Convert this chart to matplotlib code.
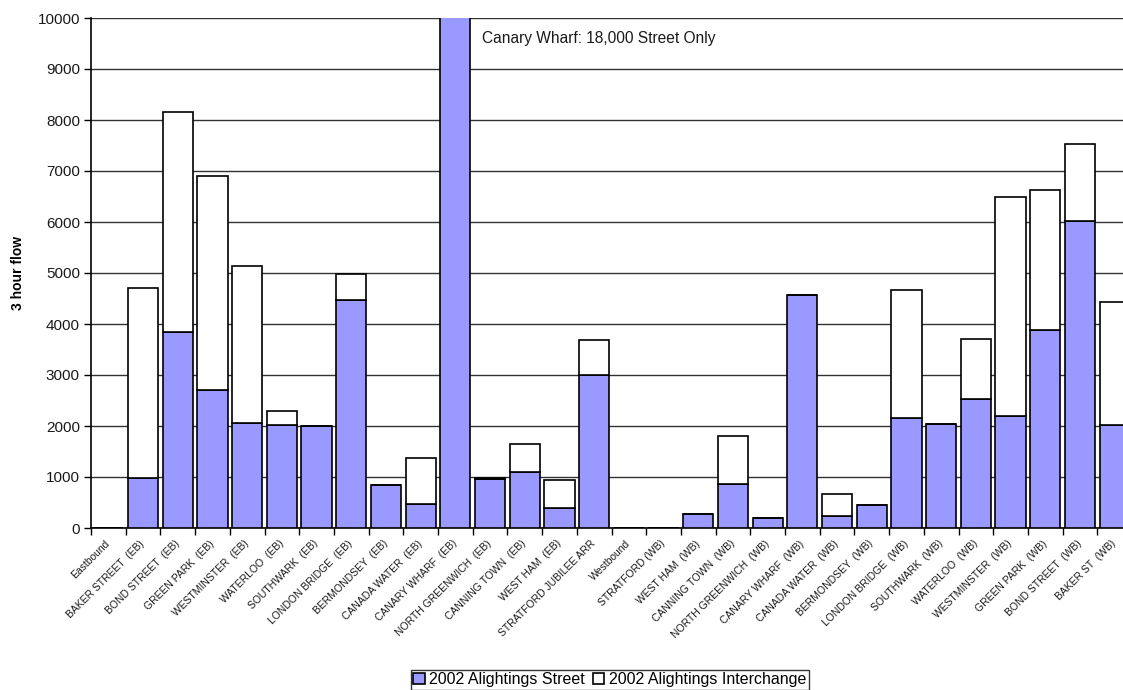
import numpy as np
import matplotlib
matplotlib.use("Agg")
from matplotlib import pyplot as plt

plt.rcParams['font.family'] = ['Liberation Sans', 'DejaVu Sans']

# station labels, eastbound then westbound
stations = ["Eastbound", "BAKER STREET  (EB)", "BOND STREET  (EB)", "GREEN PARK  (EB)",
            "WESTMINSTER  (EB)", "WATERLOO  (EB)", "SOUTHWARK  (EB)", "LONDON BRIDGE  (EB)",
            "BERMONDSEY  (EB)", "CANADA WATER  (EB)", "CANARY WHARF  (EB)",
            "NORTH GREENWICH  (EB)", "CANNING TOWN  (EB)", "WEST HAM  (EB)",
            "STRATFORD JUBILEE ARR", "Westbound", "STRATFORD (WB)", "WEST HAM  (WB)",
            "CANNING TOWN  (WB)", "NORTH GREENWICH  (WB)", "CANARY WHARF  (WB)",
            "CANADA WATER  (WB)", "BERMONDSEY  (WB)", "LONDON BRIDGE  (WB)",
            "SOUTHWARK  (WB)", "WATERLOO  (WB)", "WESTMINSTER  (WB)", "GREEN PARK  (WB)",
            "BOND STREET  (WB)", "BAKER ST  (WB)"]

# 2002 alightings, 3 hour flow
street = [0, 980, 3845, 2700, 2065, 2025, 2000, 4470, 845, 470, 18000,
          965, 1105, 390, 3005,
          0, 0, 275, 865, 195, 4575, 240, 445, 2150, 2045, 2520, 2200, 3880, 6010, 2020]
interchange = [0, 3725, 4305, 4205, 3070, 275, 0, 505, 0, 895, 0,
               15, 535, 550, 675,
               0, 0, 0, 935, 0, 0, 425, 0, 2510, 0, 1190, 4300, 2740, 1520, 2410]

blue = "#9999ff"
x = np.arange(len(stations))

fig = plt.figure(figsize=(11.23, 6.9), dpi=100)
# axes runs a little past the right edge, like the original export
ax = fig.add_axes([91 / 1123, 1 - 528 / 690, 1041 / 1123, 510 / 690])

ax.bar(x, street, width=0.87, color=blue, edgecolor="black", linewidth=1.2,
       label="2002 Alightings Street", zorder=3)
ax.bar(x, interchange, width=0.87, bottom=street, color="white", edgecolor="black",
       linewidth=1.2, label="2002 Alightings Interchange", zorder=3)

ax.set_xlim(-0.5, len(stations) - 0.5)
ax.set_ylim(0, 10000)
ax.set_yticks(np.arange(0, 10001, 1000))
ax.yaxis.grid(True, color="#333333", linewidth=1.0, zorder=0)
ax.tick_params(axis="y", direction="out", length=5, width=1, labelsize=11,
               labelcolor="#1a1a1a", pad=3)

# ticks between categories, labels at centres
ax.set_xticks(x - 0.5)
ax.set_xticklabels([])
ax.tick_params(axis="x", which="major", direction="out", length=5, width=1)
ax.set_xticks(x, minor=True)
ax.set_xticklabels(stations, minor=True, rotation=45, ha="right", va="center",
                   rotation_mode="anchor", fontsize=7.5, color="#1a1a1a")
ax.tick_params(axis="x", which="minor", length=0, pad=10)

for s in ["top", "right"]:
    ax.spines[s].set_visible(False)
ax.spines["left"].set_linewidth(1.2)
ax.spines["bottom"].set_linewidth(1.2)

ax.text(10.77, 9600, "Canary Wharf: 18,000 Street Only", fontsize=11.2,
        va="center", ha="left", color="#1a1a1a")

fig.text(18 / 1123, 1 - 273 / 690, "3 hour flow", rotation=90, fontsize=10,
         fontweight="bold", ha="center", va="center")

leg = ax.legend(loc="upper center", bbox_to_anchor=(610 / 1123, 1 - 670 / 690),
                bbox_transform=fig.transFigure, ncol=2, fontsize=11.5, frameon=True,
                fancybox=False, edgecolor="black", handlelength=0.7, handleheight=0.7,
                handletextpad=0.3, columnspacing=0.5, borderpad=0.15, borderaxespad=0)
leg.get_frame().set_linewidth(1.0)

fig.savefig("out.png", dpi=100)
